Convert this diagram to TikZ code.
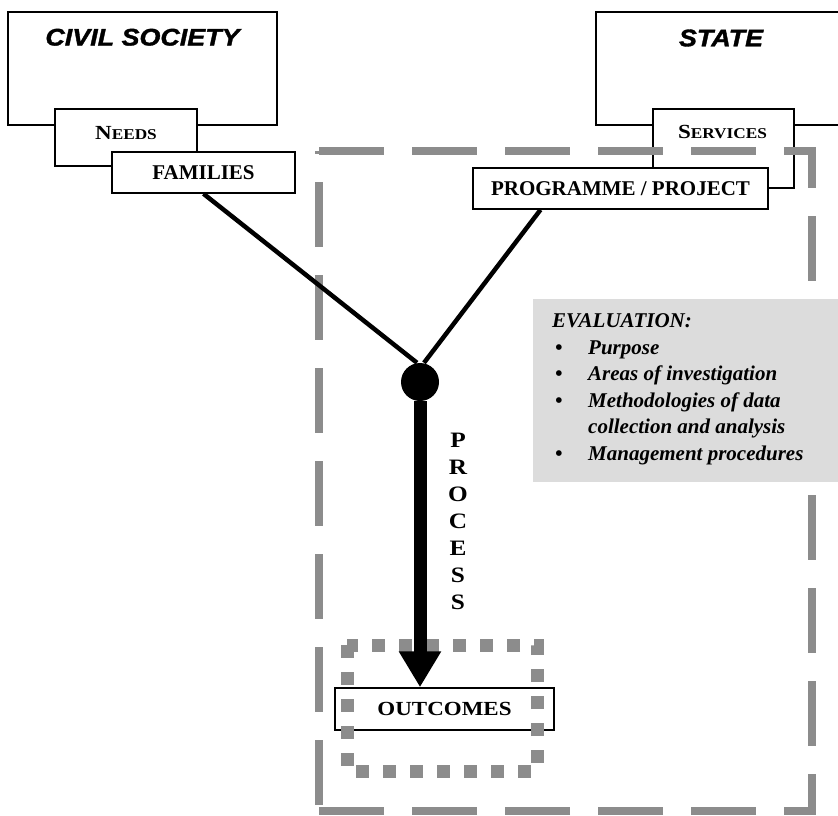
\documentclass[tikz,border=0pt]{standalone}
\usepackage{fontspec}
\setmainfont{Liberation Serif}
\newfontfamily\headfont[FakeStretch=1.12, BoldItalicFeatures={FakeBold=1.5}]{Liberation Sans}
\newfontfamily\capsfont[FakeStretch=1.15]{Liberation Serif}
\usetikzlibrary{arrows.meta}

\definecolor{dashgray}{HTML}{8C8C8C}
\definecolor{evalgray}{HTML}{DCDCDC}

\newcommand{\fakesc}[2]{{\fontsize{20}{20}\selectfont #1}{\fontsize{15}{15}\selectfont #2}}
\newcommand{\bulletitem}{\hspace*{3pt}\makebox[33pt][l]{\textbullet}}

\begin{document}
\begin{tikzpicture}[
  x=1pt, y=-1pt,
  box/.style={draw, line width=1.5pt, fill=white, inner sep=0pt},
  headtxt/.style={font=\headfont\bfseries\itshape\fontsize{24}{24}\selectfont, inner sep=0pt},
  captxt/.style={font=\capsfont\bfseries, inner sep=0pt},
  boxtxt/.style={font=\bfseries\fontsize{21}{21}\selectfont},
  evaltxt/.style={font=\bfseries\itshape\fontsize{21}{21}\selectfont, anchor=base west, inner sep=0pt},
  proctxt/.style={font=\capsfont\bfseries\fontsize{22}{22}\selectfont, inner sep=0pt},
  dashline/.style={draw=dashgray, line width=8pt, dash pattern=on 65pt off 28pt},
  dotline/.style={draw=dashgray, line width=13pt, dash pattern=on 13pt off 14pt},
  link/.style={line width=4.5pt}
]
  \useasboundingbox (0,0) rectangle (838,815);

  % Civil society side
  \node[box, minimum width=269pt, minimum height=113pt] (civil) at (142.5,68.5) {};
  \node[headtxt] (civiltxt) at ([yshift=-26pt]civil.north) {CIVIL SOCIETY};
  \node[box, minimum width=142pt, minimum height=57pt] (needs) at (126,137.5) {};
  \node[captxt] (needstxt) at (126,133) {\fakesc{N}{EEDS}};
  \node[box, minimum width=183pt, minimum height=41pt, boxtxt] (fam) at (203.5,172.5) {FAMILIES};

  % State side
  \node[box, minimum width=254pt, minimum height=113pt] (state) at (723,68.5) {};
  \node[headtxt] (statetxt) at (721,38) {STATE};
  \node[box, minimum width=141pt, minimum height=79pt] (serv) at (723.5,148.5) {};
  \node[captxt] (servtxt) at (722.5,132) {\fakesc{S}{ERVICES}};

  % Evaluation frame
  \draw[dashline] (319,151) -| (812,811) -- (319,811);
  \draw[dashline, dash phase=62pt] (319,151) -- (319,811);

  \node[box, minimum width=295pt, minimum height=41pt, boxtxt] (prog) at (620.5,188.5) {PROGRAMME / PROJECT};

  % Evaluation list
  \node[fill=evalgray, minimum width=317pt, minimum height=183pt, inner sep=0pt] (evalbox) at (691.5,390.5) {};
  \node[evaltxt] (ev0) at (552,327) {EVALUATION:};
  \node[evaltxt] (ev1) at (552,354) {\bulletitem Purpose};
  \node[evaltxt] (ev2) at (552,380.5) {\bulletitem Areas of investigation};
  \node[evaltxt] (ev3) at (552,407) {\bulletitem Methodologies of data};
  \node[evaltxt] (ev4) at (552,433.5) {\hspace*{36pt}collection and analysis};
  \node[evaltxt] (ev5) at (552,460) {\bulletitem Management procedures};

  % Process
  \node[circle, fill, minimum size=38pt, inner sep=0pt] (hub) at (420,382) {};
  \draw[link] (fam.south) -- ([xshift=-3pt]hub.north);
  \draw[link] ([xshift=-80pt]prog.south) -- ([xshift=4pt]hub.north);

  \foreach \ch [count=\i] in {P,R,O,C,E,S,S}
    \node[proctxt] (proc\i) at (458,413+27*\i) {\ch};

  % Outcomes
  \node[box, minimum width=219pt, minimum height=42pt, captxt] (out) at (444.5,709) {\fontsize{20}{20}\selectfont OUTCOMES};
  \draw[dotline] (347,645) rectangle (537,771);
  \draw[line width=13pt, -{Triangle[width=40pt,length=36pt]}] (hub) -- (hub |- out.north);
\end{tikzpicture}
\end{document}
